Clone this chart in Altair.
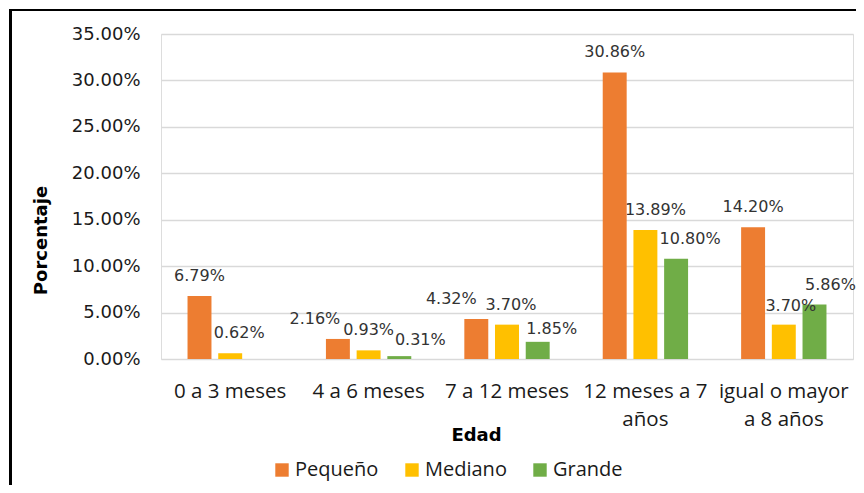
import altair as alt
import pandas as pd

categories = ["0 a 3 meses", "4 a 6 meses", "7 a 12 meses", "12 meses a 7 años", "igual o mayor a 8 años"]
series = ["Pequeño", "Mediano", "Grande"]
pequeno = [6.79, 2.16, 4.32, 30.86, 14.20]
mediano = [0.62, 0.93, 3.70, 13.89, 3.70]
grande = [None, 0.31, 1.85, 10.80, 5.86]
colors = ["#ED7D31", "#FFC000", "#70AD47"]
y_ticks = [0, 5, 10, 15, 20, 25, 30, 35]

# label nudges (style only): (category index, series) -> (dx, dy)
nudges = {
    (1, "Pequeño"): (-23, -15), (2, "Pequeño"): (-25, -15),
    (0, "Mediano"): (9, -15), (2, "Mediano"): (4, -15), (3, "Mediano"): (10, -15), (4, "Mediano"): (7, -14),
    (1, "Grande"): (21, -11), (2, "Grande"): (14, -8), (3, "Grande"): (14, -15), (4, "Grande"): (16, -15),
}

rows = []
for s, vals in zip(series, [pequeno, mediano, grande]):
    for i, (c, v) in enumerate(zip(categories, vals)):
        rows.append({"cat": c, "series": s, "value": v, "key": f"{i}|{s}"})
df = pd.DataFrame(rows)

x_enc = alt.X(
    "cat:N", sort=categories,
    scale=alt.Scale(paddingInner=0, paddingOuter=0),
    axis=alt.Axis(
        title="Edad", titleFont="DejaVu Sans", titleFontWeight="bold", titleFontSize=18,
        titleColor="#000000", titleX=315, titleY=81.7, titleBaseline="alphabetic", titleAlign="center",
        labelFont="Open Sans", labelFontSize=20.5, labelColor="#1a1a1a", labelPadding=22,
        labelLineHeight=28, labelLimit=300, labelAngle=0,
        labelExpr="datum.label == '12 meses a 7 años' ? ['12 meses a 7', 'años'] : datum.label == 'igual o mayor a 8 años' ? ['igual o mayor', 'a 8 años'] : datum.label",
        ticks=False, tickSize=0, domain=False, grid=False,
    ),
)
xo_enc = alt.XOffset("series:N", sort=series, scale=alt.Scale(paddingInner=0.22, paddingOuter=0.864))
y_scale = alt.Scale(domain=[0, 35], nice=False)

bars = alt.Chart(df).mark_bar().encode(
    x=x_enc,
    xOffset=xo_enc,
    y=alt.Y(
        "value:Q", scale=y_scale,
        axis=alt.Axis(
            title="Porcentaje", titleFont="DejaVu Sans", titleFontWeight="bold", titleFontSize=18,
            titleColor="#000000", titleX=-114.5, titleY=206, titleAngle=270, titleBaseline="alphabetic",
            titleAlign="center",
            values=y_ticks, labelExpr="format(datum.value, '.2f') + '%'",
            labelFont="DejaVu Sans", labelFontSize=18, labelColor="#1a1a1a", labelPadding=21,
            ticks=False, tickSize=0, domain=False,
            grid=True, gridColor="#d9d9d9", gridWidth=1.4,
        ),
    ),
    color=alt.Color(
        "series:N", sort=series, scale=alt.Scale(domain=series, range=colors),
        legend=alt.Legend(
            title=None, orient="none", legendX=111, legendY=426, direction="horizontal",
            symbolType="square", symbolSize=180, symbolStrokeWidth=0, labelFont="Open Sans",
            labelFontSize=20, labelColor="#1a1a1a", labelOffset=3, columnPadding=23, padding=0,
        ),
    ),
)

base_text = alt.Chart(df).transform_filter("isValid(datum.value)").transform_calculate(
    label="format(datum.value, '.2f') + '%'"
)

layers = [bars]
nudged_keys = [f"{i}|{s}" for (i, s) in nudges]
plain = base_text.transform_filter(
    alt.FieldOneOfPredicate(field="key", oneOf=nudged_keys).__invert__()
).mark_text(
    font="DejaVu Sans", fontSize=16, color="#333333", baseline="alphabetic", dy=-15
).encode(x=x_enc, xOffset=xo_enc, y=alt.Y("value:Q", scale=y_scale), text="label:N")
layers.append(plain)

groups = {}
for (i, s), (dx, dy) in nudges.items():
    groups.setdefault((dx, dy), []).append(f"{i}|{s}")
for (dx, dy), keys in groups.items():
    t = base_text.transform_filter(
        alt.FieldOneOfPredicate(field="key", oneOf=keys)
    ).mark_text(
        font="DejaVu Sans", fontSize=16, color="#333333", baseline="alphabetic", dx=dx, dy=dy
    ).encode(x=x_enc, xOffset=xo_enc, y=alt.Y("value:Q", scale=y_scale), text="label:N")
    layers.append(t)

top_border = alt.Chart(df).mark_rule(color="#000000", strokeWidth=2.2).encode(
    x=alt.value(-152), x2=alt.value(695), y=alt.value(-24)
)
left_border = alt.Chart(df).mark_rule(color="#000000", strokeWidth=2.6).encode(
    x=alt.value(-150.7), y=alt.value(-25), y2=alt.value(451)
)
layers += [top_border, left_border]

chart = alt.layer(*layers).properties(
    width=692, height=325,
    autosize=alt.AutoSizeParams(type="none"),
    padding={"left": 153, "top": 26, "right": 3, "bottom": 126},
).configure_view(stroke=None).configure(background="#ffffff")

chart.save("out.html", embed_options={"renderer": "svg", "actions": False})
